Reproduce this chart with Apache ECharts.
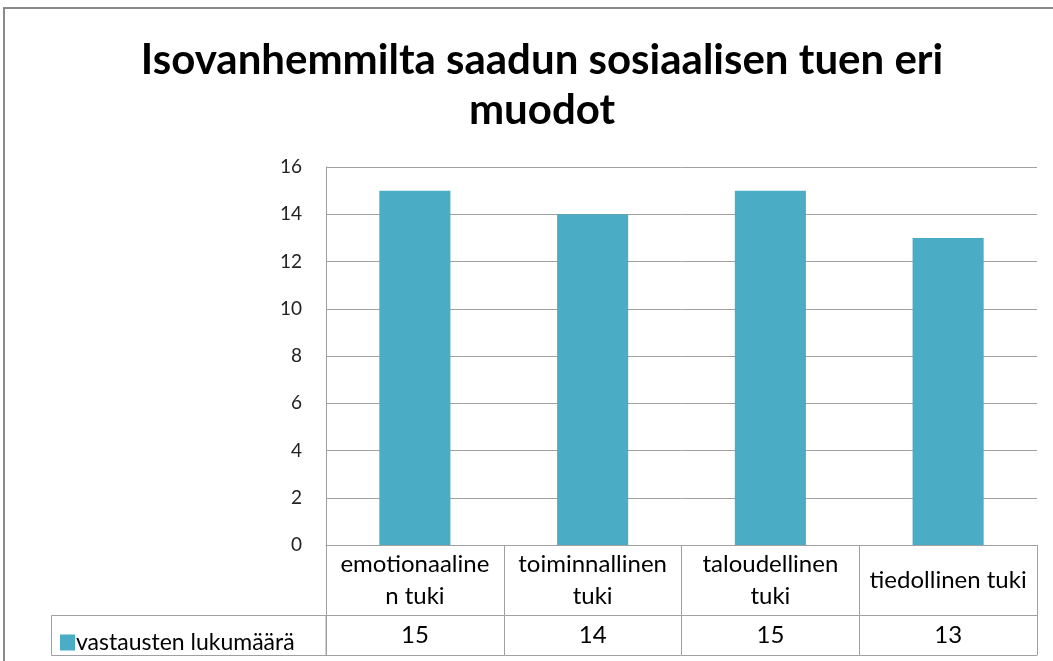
<!DOCTYPE html>
<html>
<head>
<meta charset="utf-8">
<script src="https://cdn.jsdelivr.net/npm/echarts@6/dist/echarts.min.js"></script>
<style>html,body{margin:0;padding:0;background:#fff}#c{width:1053px;height:661px}</style>
</head>
<body>
<div id="c"></div>
<script>
var titleText = 'Isovanhemmilta saadun sosiaalisen tuen eri\nmuodot';
var seriesName = 'vastausten lukumäärä';
var categories = ['emotionaaline\nn tuki', 'toiminnallinen\ntuki', 'taloudellinen\ntuki', 'tiedollinen tuki'];
var values = [15, 14, 15, 13];
var yTicks = [0, 2, 4, 6, 8, 10, 12, 14, 16];

var FONT = 'Lato, "Open Sans", sans-serif';
var GRID_L = 326, GRID_R = 16, GRID_T = 167, GRID_B = 116;
var ROW1 = 70, ROW2 = 40;
var TABLE_L = 51;
var lineCol = '#a0a0a0';
var chart = echarts.init(document.getElementById('c'));
var axisBottom = 661 - GRID_B;

chart.setOption({
  animation: false,
  title: {
    text: titleText, left: 537, top: 30, textAlign: 'center',
    textStyle: {fontFamily: FONT, fontWeight: 'bold', fontSize: 42, lineHeight: 50, color: '#000'}
  },
  legend: {
    left: TABLE_L + 4, top: axisBottom + ROW1 + 11, icon: 'rect', itemWidth: 15, itemHeight: 16, itemGap: 4,
    textStyle: {fontFamily: FONT, fontSize: 23, color: '#000', padding: [0,0,0,-4]},
    data: [seriesName]
  },
  grid: {left: GRID_L, right: GRID_R, top: GRID_T, bottom: GRID_B},
  xAxis: [
    {
      type: 'category', data: categories, position: 'bottom',
      axisLine: {show: true, lineStyle: {color: lineCol, width: 1}},
      axisTick: {show: true, length: ROW1 + ROW2, lineStyle: {color: lineCol}},
      axisLabel: {margin: ROW1 / 2, verticalAlign: 'middle', fontFamily: FONT, fontSize: 24, color: '#000', lineHeight: 32, interval: 0}
    },
    {
      type: 'category', data: categories, position: 'bottom', offset: ROW1,
      axisLine: {show: true, lineStyle: {color: lineCol, width: 1}},
      axisTick: {show: false},
      axisLabel: {margin: ROW2 / 2, verticalAlign: 'middle', fontFamily: FONT, fontSize: 24, color: '#000', interval: 0,
        formatter: function (v, i) { return String(values[i]); }}
    },
    {
      type: 'category', data: categories, position: 'bottom', offset: ROW1 + ROW2,
      axisLine: {show: true, lineStyle: {color: lineCol, width: 1}},
      axisTick: {show: false}, axisLabel: {show: false}
    }
  ],
  yAxis: {
    type: 'value', min: yTicks[0], max: yTicks[yTicks.length - 1], interval: 2,
    axisLine: {show: true, lineStyle: {color: lineCol}},
    axisTick: {show: false},
    splitLine: {show: true, lineStyle: {color: lineCol, width: 1}},
    axisLabel: {margin: 24, fontFamily: FONT, fontSize: 19, color: '#222'}
  },
  series: [{
    name: seriesName, type: 'bar', data: values, barWidth: '40%', xAxisIndex: 0,
    itemStyle: {color: '#4bacc6'}
  }],
  graphic: [
    {type: 'rect', shape: {x: 4, y: 8, width: 1200, height: 800}, style: {fill: 'none', stroke: '#8a8a8a', lineWidth: 2}, silent: true},
    {type: 'rect', shape: {x: TABLE_L + 0.5, y: axisBottom + ROW1 + 0.5, width: GRID_L - TABLE_L - 0.5, height: ROW2}, style: {fill: 'none', stroke: lineCol, lineWidth: 1}, silent: true}
  ]
});
</script>
</body>
</html>
